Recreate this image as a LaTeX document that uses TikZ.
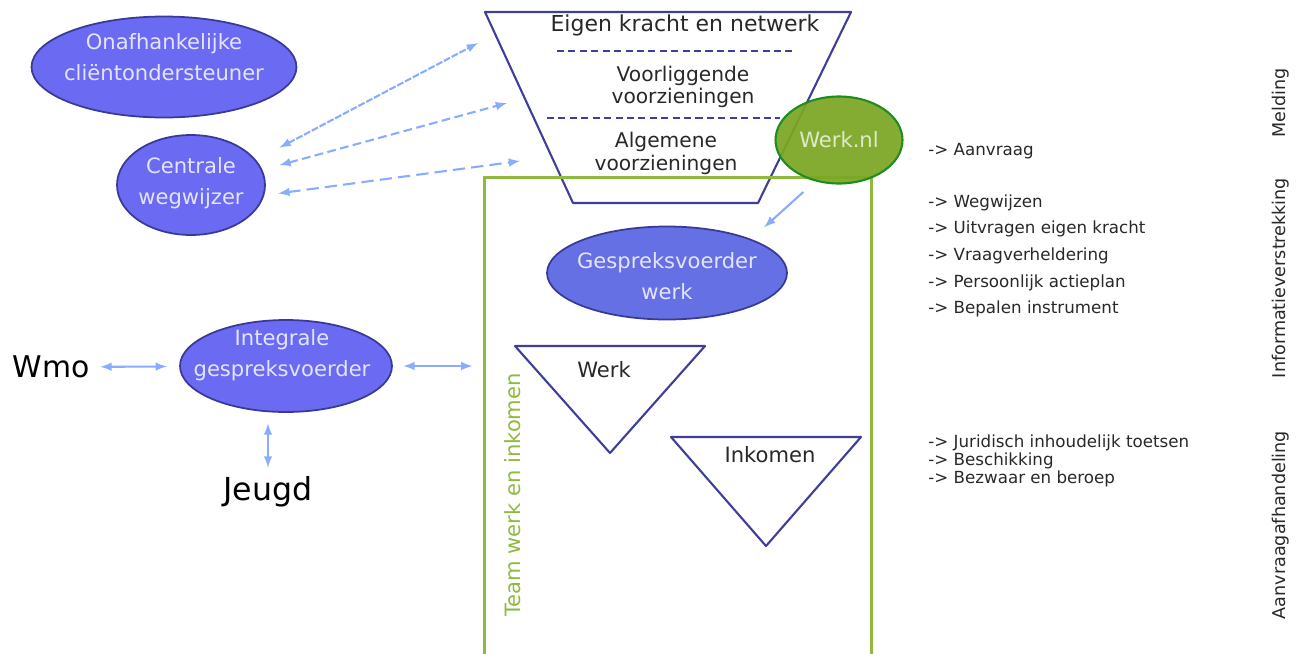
\documentclass[tikz,border=0pt]{standalone}
\usepackage{fontspec}
\setmainfont{DejaVu Sans}
\usetikzlibrary{arrows,shapes.geometric}
\definecolor{bubble}{RGB}{106,106,242}
\definecolor{bubblework}{RGB}{100,112,228}
\definecolor{bubbleline}{RGB}{58,58,150}
\definecolor{bubbletext}{RGB}{228,228,255}
\definecolor{funnelblue}{RGB}{63,63,155}
\definecolor{linkblue}{RGB}{138,172,255}
\definecolor{teamgreen}{RGB}{143,186,63}
\definecolor{werkgreen}{RGB}{124,166,34}
\definecolor{werkline}{RGB}{30,140,30}
\definecolor{werktext}{RGB}{222,234,200}
\definecolor{darktext}{RGB}{40,40,40}

\begin{document}
\begin{tikzpicture}[x=0.02cm, y=-0.02cm, auto]
    \tikzstyle{blue bubble} = [ellipse, draw=bubbleline, fill=bubble, line width=1pt, inner sep=0pt]
    \tikzstyle{bubble text} = [text=bubbletext, align=center, font=\fontsize{12}{18}\selectfont]
    \tikzstyle{funnel text} = [text=darktext, align=center, font=\fontsize{11.5}{13}\selectfont]
    \tikzstyle{funnel edge} = [draw=funnelblue, line width=1.2pt, line join=round]
    \tikzstyle{funnel split} = [draw=funnelblue, line width=1.2pt, dash pattern=on 4pt off 2.5pt]
    \tikzstyle{link} = [draw=linkblue, line width=1.2pt, >=latex]
    \tikzstyle{link both} = [link, <->]
    \tikzstyle{step item} = [anchor=west, inner sep=0pt, text=darktext, font=\fontsize{9.5}{11}\selectfont]
    \tikzstyle{phase label} = [rotate=90, inner sep=0pt, text=darktext, font=\fontsize{10}{12}\selectfont]
\useasboundingbox (0,0) rectangle (1304,653);
% trechter
\draw[funnel edge] (485,12) -- (851,12) -- (758,203) -- (573,203) -- cycle;
\draw[funnel split] (557,51) -- (793,51);
\draw[funnel split] (547,118) -- (780,118);
\node[funnel text, font=\fontsize{12.5}{14}\selectfont] (eigen) at (685,25) {Eigen kracht en netwerk};
\node[funnel text] (voorliggend) at (683,87) {Voorliggende\\voorzieningen};
\node[funnel text] (algemeen) at (666,153) {Algemene\\voorzieningen};
\coordinate (eigen in) at (478,43);
\coordinate (voorliggend in) at (507,103);
\coordinate (algemeen in) at (520,161);
% team werk en inkomen
\node[draw=teamgreen, line width=1.5pt, minimum width=7.74cm, minimum height=10.5cm, anchor=north west, inner sep=0pt] (team) at (483,176) {};
\node[rotate=90, inner sep=0pt, text=teamgreen, font=\fontsize{12}{14}\selectfont] (teamlabel) at (513,495) {Team werk en inkomen};
\draw[funnel edge] (515,346) -- (705,346) -- (610,453) -- cycle;
\node[funnel text, font=\fontsize{12}{14}\selectfont] (werk) at (604,370) {Werk};
\draw[funnel edge] (671,437) -- (861,437) -- (766,546) -- cycle;
\node[funnel text, font=\fontsize{12}{14}\selectfont] (inkomen) at (770,455) {Inkomen};
% ellipsen
\node[blue bubble, minimum width=5.3cm, minimum height=2.02cm] (onaf) at (164,67) {};
\node[bubble text] at (164,57) {Onafhankelijke\\cliëntondersteuner};
\node[blue bubble, minimum width=2.96cm, minimum height=2cm] (cw) at (191,185) {};
\node[bubble text] at (191,183) {Centrale\\wegwijzer};
\node[blue bubble, fill=bubblework, minimum width=4.8cm, minimum height=1.86cm] (gvw) at (667,273) {};
\node[bubble text] at (667,276) {Gespreksvoerder\\werk};
\node[blue bubble, minimum width=4.24cm, minimum height=1.84cm] (igv) at (286,366) {};
\node[bubble text] at (282,355) {Integrale\\gespreksvoerder};
\node[ellipse, draw=werkline, fill=werkgreen, fill opacity=0.93, text opacity=1, line width=1.2pt, inner sep=0pt, minimum width=2.54cm, minimum height=1.74cm, text=werktext, font=\fontsize{12}{14}\selectfont] (werknl) at (839,140) {Werk.nl};
\node[inner sep=0pt, text=black, font=\fontsize{17}{20}\selectfont] (wmo) at (51,367) {Wmo};
\node[inner sep=0pt, text=black, font=\fontsize{18}{20}\selectfont] (jeugd) at (268,492) {Jeugd};
% pijlen
\draw[link both, dash pattern=on 4pt off 1pt, shorten <=15pt] (cw.21) -- (eigen in);
\draw[link both, dash pattern=on 5pt off 2.5pt, shorten <=10pt] (cw.12) -- (voorliggend in);
\draw[link both, dash pattern=on 7pt off 3.5pt, shorten <=8pt] (cw.-8) -- (algemeen in);
\draw[link, ->, shorten <=9pt, shorten >=10pt] (werknl.240) -- (gvw.22);
\draw[link both, shorten <=6pt, shorten >=7pt] (wmo) -- (igv);
\draw[link both, shorten <=6pt, shorten >=6pt] (igv.east) -- (igv.east -| team.west);
\draw[link both, shorten <=6pt, shorten >=5pt] (jeugd.north |- igv.south) -- (jeugd.north);
% stappen
\node[step item] (aanvraag) at (928,151) {-> Aanvraag};
\node[step item] (wegwijzen) at (928,203) {-> Wegwijzen};
\node[step item] (uitvragen) at (928,229) {-> Uitvragen eigen kracht};
\node[step item] (verheldering) at (928,256) {-> Vraagverheldering};
\node[step item] (actieplan) at (928,283) {-> Persoonlijk actieplan};
\node[step item] (instrument) at (928,309) {-> Bepalen instrument};
\node[step item] (toetsen) at (928,443) {-> Juridisch inhoudelijk toetsen};
\node[step item] (beschikking) at (928,461) {-> Beschikking};
\node[step item] (bezwaar) at (928,479) {-> Bezwaar en beroep};
\node[phase label] (melding) at (1281,103) {Melding};
\node[phase label] (informatie) at (1281,278) {Informatieverstrekking};
\node[phase label] (afhandeling) at (1281,525) {Aanvraagafhandeling};
\end{tikzpicture}
\end{document}
